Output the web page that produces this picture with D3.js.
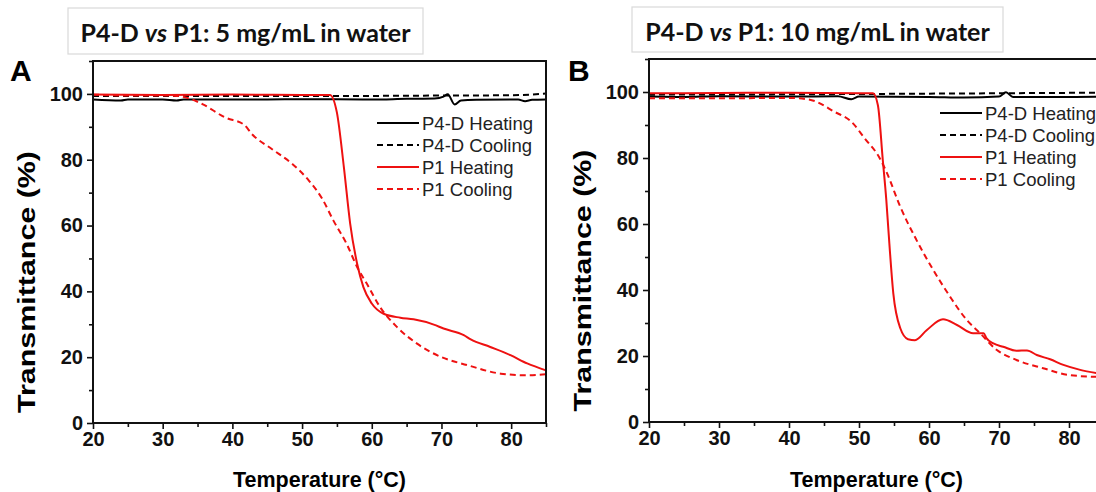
<!DOCTYPE html>
<html>
<head>
<meta charset="utf-8">
<script src="https://cdn.jsdelivr.net/npm/d3@7"></script>
<style>
  body { margin: 0; background: #fff; }
  svg { display: block; }
</style>
</head>
<body>
<svg id="chart" width="1096" height="492"></svg>
<script>
// ---- data ----
const xTicks = [20, 30, 40, 50, 60, 70, 80];
const yTicks = [0, 20, 40, 60, 80, 100];
const legendNames = ["P4-D Heating", "P4-D Cooling", "P1 Heating", "P1 Cooling"];

// panel A: 5 mg/mL
const a_p4dHeat = [[20,98.3],[24,98.0],[25,98.3],[30,98.3],[32,98.0],[33,98.3],[45,98.3],[50,98.4],[60,98.3],[65,98.5],[69,98.6],[70.3,99.2],[70.9,99.9],[71.9,96.8],[72.8,98.0],[75,98.2],[81,98.3],[82,97.8],[83,98.2],[85,98.3]];
const a_p4dCool = [[20,99.4],[40,99.4],[60,99.4],[70,99.5],[80,99.6],[85,100.1]];
const a_p1Heat = [[20,99.8],[30,99.7],[40,99.8],[50,99.7],[54,99.7],[55,94.3],[56,77.7],[56.9,60.6],[57.9,48.4],[58.8,41.3],[60,36.3],[61.7,33.2],[64.1,32.0],[66,31.5],[68.9,29.9],[70.3,28.7],[73.2,26.7],[74.2,25.4],[77,23.1],[79.9,20.6],[82.3,18.1],[85,16.0]];
const a_p1Cool = [[20,99.8],[25,99.5],[30,99.5],[32,99.4],[33.7,98.7],[35.7,96.9],[39,92.8],[41.7,90.6],[42.8,87.8],[45.7,83.2],[48.6,78.7],[51,73.6],[52.9,68.1],[54.5,61.5],[56.4,54.4],[57.9,47.4],[59.3,42.3],[61.2,35.2],[63.6,29.2],[66.5,24.1],[69.9,20.1],[73.7,17.6],[78.5,15.0],[82.3,14.5],[85,14.8]];

// panel B: 10 mg/mL
const b_p4dHeat = [[20,98.6],[25,98.5],[30,98.7],[40,98.6],[47,98.7],[48.9,97.8],[50,98.6],[60,98.5],[65,98.3],[70,98.6],[71,99.9],[72,98.5],[80,98.5],[85,98.6]];
const b_p4dCool = [[20,99.2],[40,99.3],[60,99.5],[85,99.8]];
const b_p1Heat = [[20,99.6],[30,99.7],[40,99.8],[50,99.6],[52,99.6],[52.7,96],[53.4,79.4],[53.9,67.3],[54.2,58.2],[54.9,39],[55.9,28.4],[57,25.1],[58,24.8],[59.7,27.9],[62,31.1],[64,29.4],[66.3,26.9],[67.8,26.9],[68.2,25.4],[69.2,23.8],[70.6,22.8],[72.5,21.6],[74,21.7],[75.4,20.3],[77.3,19.0],[79.2,17.3],[81.6,15.8],[83.9,14.8],[85,14.4]];
const b_p1Cool = [[20,98.1],[30,98.1],[40,98.2],[43.1,97.6],[46.5,94.0],[48.9,91.0],[50.8,86.0],[53,79.8],[54,75.4],[55.9,65.2],[58.2,55.2],[60.6,46.1],[63,38],[65.4,30.9],[67.3,26.9],[69.7,21.8],[72.5,18.8],[76.3,16.3],[80.1,14.2],[85,13.6]];

const styles = [
  { color: "#000", dash: null },
  { color: "#000", dash: "6,4" },
  { color: "#ee1111", dash: null },
  { color: "#ee1111", dash: "6,4" },
];

const svg = d3.select("#chart");
const axisFont = "'Liberation Sans', Arial, sans-serif";

function panel(opt) {
  const x = d3.scaleLinear().domain([20, 85]).range([opt.x0, opt.x1]);
  const y = d3.scaleLinear().domain([0, 110]).range([opt.y0, opt.y1]);
  const g = svg.append("g");

  // title box
  g.append("rect")
    .attr("x", opt.tb[0]).attr("y", opt.tb[1])
    .attr("width", opt.tb[2]).attr("height", opt.tb[3])
    .attr("fill", "#fff").attr("stroke", "#d9d9d9").attr("stroke-width", 1.2);
  const t = g.append("text")
    .attr("x", opt.tb[0] + opt.tb[2] / 2).attr("y", opt.tb[1] + 34)
    .attr("text-anchor", "middle")
    .attr("font-family", "Lato, 'Open Sans', sans-serif")
    .attr("font-weight", "bold").attr("font-size", 25).attr("fill", "#111");
  t.append("tspan").text("P4-D ");
  t.append("tspan").attr("font-style", "italic").text("vs");
  t.append("tspan").text(" P1: " + opt.conc + " in water");

  // panel letter
  g.append("text").attr("x", opt.letterX).attr("y", 81)
    .attr("font-family", axisFont).attr("font-weight", "bold")
    .attr("font-size", 30).text(opt.letter);

  // minor ticks
  g.append("g").attr("transform", `translate(0,${opt.y0})`)
    .call(d3.axisBottom(x).tickValues(d3.range(25, 86, 10)).tickSize(4).tickFormat(""))
    .call(s => s.select(".domain").remove());
  g.append("g").attr("transform", `translate(${opt.x0},0)`)
    .call(d3.axisLeft(y).tickValues(d3.range(10, 111, 20)).tickSize(4).tickFormat(""))
    .call(s => s.select(".domain").remove());

  // major ticks
  const xa = g.append("g").attr("transform", `translate(0,${opt.y0})`)
    .call(d3.axisBottom(x).tickValues(xTicks).tickSize(6).tickPadding(3));
  const ya = g.append("g").attr("transform", `translate(${opt.x0},0)`)
    .call(d3.axisLeft(y).tickValues(yTicks).tickSize(6).tickPadding(4));
  [xa, ya].forEach(a => {
    a.select(".domain").remove();
    a.selectAll("text").attr("font-family", axisFont).attr("font-weight", "bold")
      .attr("font-size", 20).attr("fill", "#111");
  });
  g.selectAll(".tick line").attr("stroke", "#111").attr("stroke-width", 1.6);

  // lines
  const line = d3.line().x(d => x(d[0])).y(d => y(d[1])).curve(d3.curveMonotoneX);
  opt.series.forEach((s, i) => {
    g.append("path").datum(s)
      .attr("fill", "none")
      .attr("stroke", styles[i].color)
      .attr("stroke-width", 2)
      .attr("stroke-dasharray", styles[i].dash)
      .attr("d", line);
  });

  // frame
  g.append("rect")
    .attr("x", opt.x0).attr("y", opt.y1)
    .attr("width", opt.x1 - opt.x0).attr("height", opt.y0 - opt.y1)
    .attr("fill", "none").attr("stroke", "#111").attr("stroke-width", 2);

  // legend
  legendNames.forEach((name, i) => {
    const ly = opt.leg[1] + i * 22;
    g.append("line")
      .attr("x1", opt.leg[0]).attr("x2", opt.leg[0] + 42)
      .attr("y1", ly).attr("y2", ly)
      .attr("stroke", styles[i].color).attr("stroke-width", 2)
      .attr("stroke-dasharray", styles[i].dash);
    g.append("text").attr("x", opt.leg[0] + 45).attr("y", ly + 6.5)
      .attr("font-family", axisFont).attr("font-size", 18.5).attr("fill", "#222")
      .text(name);
  });

  // axis titles
  g.append("text")
    .attr("x", (opt.x0 + opt.x1) / 2).attr("y", 487)
    .attr("text-anchor", "middle")
    .attr("font-family", axisFont).attr("font-weight", "bold").attr("font-size", 21.5)
    .text("Temperature (\u00B0C)");
  g.append("text")
    .attr("transform", `translate(${opt.ylabX},${(opt.y0 + opt.y1) / 2 + 40}) rotate(-90)`)
    .attr("text-anchor", "middle")
    .attr("font-family", axisFont).attr("font-weight", "bold").attr("font-size", 24)
    .attr("textLength", 262).attr("lengthAdjust", "spacingAndGlyphs")
    .text("Transmittance (%)");
}

panel({
  x0: 93, x1: 546, y0: 423, y1: 61,
  tb: [68, 8, 355, 46], conc: "5 mg/mL",
  letter: "A", letterX: 10, ylabX: 35,
  leg: [377, 123],
  series: [a_p4dHeat, a_p4dCool, a_p1Heat, a_p1Cool],
});

panel({
  x0: 649, x1: 1104, y0: 422, y1: 59,
  tb: [632, 7, 371, 45], conc: "10 mg/mL",
  letter: "B", letterX: 568, ylabX: 591,
  leg: [940, 113],
  series: [b_p4dHeat, b_p4dCool, b_p1Heat, b_p1Cool],
});
</script>
</body>
</html>
